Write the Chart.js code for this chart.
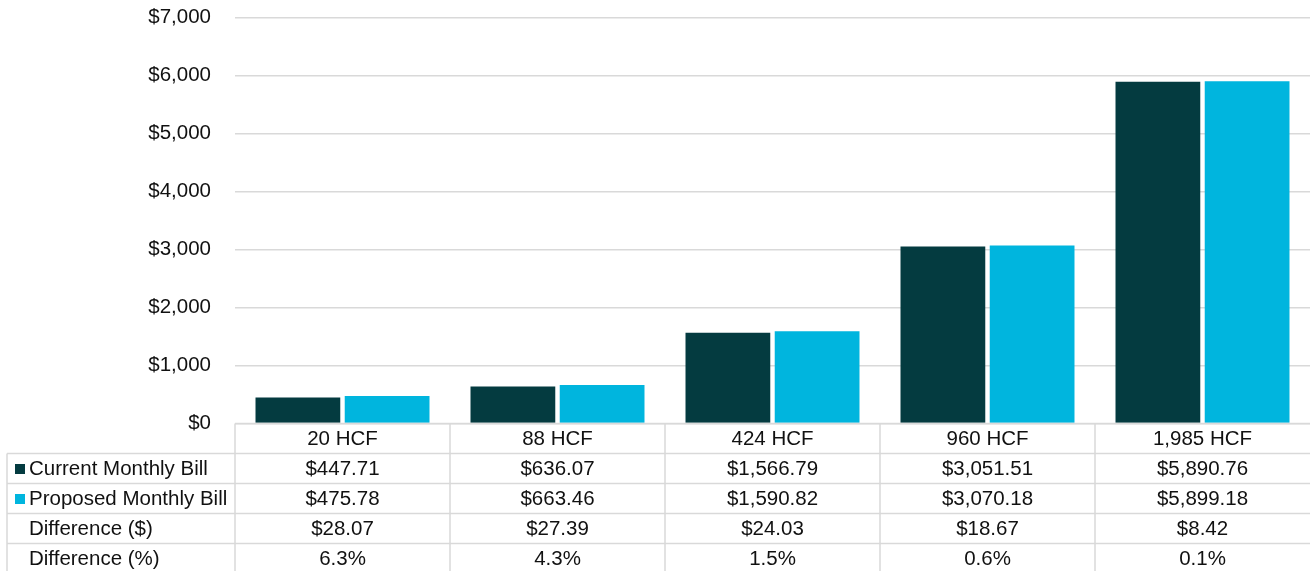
<!DOCTYPE html>
<html>
<head>
<meta charset="utf-8">
<script src="https://cdn.jsdelivr.net/npm/chart.js@4/dist/chart.umd.min.js"></script>
<style>
  html, body { margin: 0; padding: 0; background: #ffffff; }
  #wrap { width: 1310px; height: 571px; position: relative; }
</style>
</head>
<body>
<div id="wrap"><canvas id="c"></canvas></div>
<script>
// Monthly bill comparison by usage level
const categories = ['20 HCF', '88 HCF', '424 HCF', '960 HCF', '1,985 HCF'];
const currentBill = [447.71, 636.07, 1566.79, 3051.51, 5890.76];
const proposedBill = [475.78, 663.46, 1590.82, 3070.18, 5899.18];
const differenceDollar = [28.07, 27.39, 24.03, 18.67, 8.42];
const differencePct = [6.3, 4.3, 1.5, 0.6, 0.1];
const seriesNames = ['Current Monthly Bill', 'Proposed Monthly Bill'];
const extraRowNames = ['Difference ($)', 'Difference (%)'];

const DARK = '#043b40';
const CYAN = '#00b5de';
const GRID = '#d9d9d9';
const TEXT = '#111111';
const FONT = '"Liberation Sans", Arial, sans-serif';
const FONT_SIZE = 20.5;

const money = v => '$' + v.toLocaleString('en-US', { minimumFractionDigits: 2, maximumFractionDigits: 2 });
const pct = v => v.toFixed(1) + '%';

// Data table drawn under the plot, aligned with the category axis
const dataTable = {
  id: 'dataTable',
  afterDraw(chart) {
    const ctx = chart.ctx;
    const area = chart.chartArea;
    const x = chart.scales.x;
    const n = categories.length;
    const colW = (area.right - area.left) / n;
    const rowH = 30;
    const top = area.bottom;
    const tableLeft = 7;
    const bottom = chart.height + 2;

    const rows = [
      { name: seriesNames[0], color: DARK, cells: currentBill.map(money) },
      { name: seriesNames[1], color: CYAN, cells: proposedBill.map(money) },
      { name: extraRowNames[0], color: null, cells: differenceDollar.map(money) },
      { name: extraRowNames[1], color: null, cells: differencePct.map(pct) }
    ];

    ctx.save();
    ctx.strokeStyle = GRID;
    ctx.lineWidth = 1.5;

    // header top border
    ctx.beginPath();
    ctx.moveTo(area.left, top);
    ctx.lineTo(chart.width, top);
    ctx.stroke();

    // row separators
    for (let r = 0; r < rows.length; r++) {
      const y = top + rowH * (r + 1);
      ctx.beginPath();
      ctx.moveTo(tableLeft, y);
      ctx.lineTo(chart.width, y);
      ctx.stroke();
    }

    // column separators
    for (let i = 0; i < n; i++) {
      const xx = area.left + colW * i;
      ctx.beginPath();
      ctx.moveTo(xx, top);
      ctx.lineTo(xx, bottom);
      ctx.stroke();
    }
    ctx.beginPath();
    ctx.moveTo(tableLeft, top + rowH);
    ctx.lineTo(tableLeft, bottom);
    ctx.stroke();

    ctx.font = FONT_SIZE + 'px ' + FONT;
    ctx.fillStyle = TEXT;
    ctx.textBaseline = 'middle';

    // category header
    ctx.textAlign = 'center';
    categories.forEach((c, i) => {
      ctx.fillText(c, x.getPixelForValue(i), top + rowH / 2 + 1);
    });

    rows.forEach((row, r) => {
      const cy = top + rowH * (r + 1) + rowH / 2 + 1;
      if (row.color) {
        ctx.fillStyle = row.color;
        ctx.fillRect(15, cy - 5.5, 10, 10);
      }
      ctx.fillStyle = TEXT;
      ctx.textAlign = 'left';
      ctx.fillText(row.name, 29, cy);
      ctx.textAlign = 'center';
      row.cells.forEach((t, i) => {
        ctx.fillText(t, x.getPixelForValue(i), cy);
      });
    });
    ctx.restore();
  }
};

new Chart(document.getElementById('c'), {
  type: 'bar',
  data: {
    labels: categories,
    datasets: [
      { label: seriesNames[0], data: currentBill, backgroundColor: DARK, borderWidth: 0 },
      { label: seriesNames[1], data: proposedBill, backgroundColor: CYAN, borderWidth: 0 }
    ]
  },
  options: {
    responsive: true,
    maintainAspectRatio: false,
    animation: false,
    devicePixelRatio: 1,
    categoryPercentage: 0.83,
    barPercentage: 0.95,
    layout: { padding: { top: 17.5, right: 0, bottom: 147.5, left: 0 } },
    plugins: {
      legend: { display: false },
      tooltip: { enabled: false }
    },
    scales: {
      x: {
        display: false
      },
      y: {
        min: 0,
        max: 7000,
        afterFit(scale) {
          scale.width = 235;
          scale.paddingTop = 0;
          scale.paddingBottom = 0;
        },
        border: { display: false },
        grid: { color: GRID, lineWidth: 1.5, drawTicks: false },
        ticks: {
          stepSize: 1000,
          padding: 24,
          color: TEXT,
          font: { family: FONT, size: FONT_SIZE },
          callback: v => '$' + v.toLocaleString('en-US')
        }
      }
    }
  },
  plugins: [dataTable]
});
</script>
</body>
</html>
